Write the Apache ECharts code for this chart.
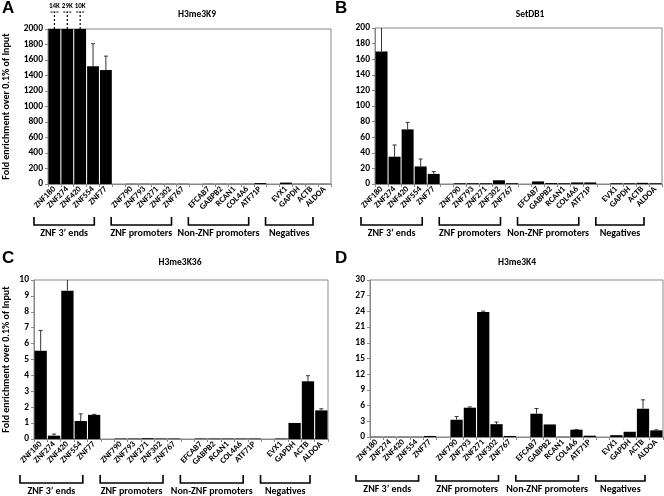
<!DOCTYPE html>
<html><head><meta charset="utf-8">
<script src="https://cdn.jsdelivr.net/npm/echarts@6/dist/echarts.min.js"></script>
<style>html,body{margin:0;padding:0;background:#fff}#c{width:664px;height:496px}</style>
</head><body><div id="c"></div>
<script>
const categories = ['ZNF180','ZNF274','ZNF420','ZNF554','ZNF77',' ',
  'ZNF790','ZNF793','ZNF271','ZNF302','ZNF767','  ',
  'EFCAB7','GABPB2','RCAN1','COL4A6','ATF71P','   ',
  'EVX1','GAPDH','ACTB','ALDOA'];
const groupNames = ['ZNF 3\u2019 ends','ZNF promoters','Non-ZNF promoters','Negatives'];
const groupFirst = ['ZNF180','ZNF790','EFCAB7','EVX1'];
const groupLast = ['ZNF77','ZNF767','ATF71P','ALDOA'];
const panelLetters = ['A','B','C','D'];
const panelTitles = ['H3me3K9','SetDB1','H3me3K36','H3me3K4'];
const yMax = [2000,200,10,30];
const yInterval = [200,20,1,3];
const yAxisTitle = 'Fold enrichment over 0.1% of Input';

// H3me3K9
const k9Values = [14000,29000,10000,1520,1470,null, 3,3,3,3,3,null, 3,3,3,3,12,null, 18,3,3,3];
const k9Errors = [0,0,0,290,180,null, 0,0,0,0,0,null, 0,0,0,0,0,null, 0,0,0,0];
// SetDB1
const setdb1Values = [170,35,70,22.5,13,null, 1,1,1,4.8,1,null, 3.3,1.2,1,2,2,null, 1,1,1.5,1];
const setdb1Errors = [32,15,9,9.5,3,null, 0,0,0,0,0,null, 0,0,0,0,0,null, 0,0,0,0];
// H3me3K36
const k36Values = [5.55,0.21,9.33,1.13,1.52,null, 0.03,0.03,0.05,0.03,0.03,null, 0.03,0.03,0.03,0.03,0.03,null, 0.03,1.01,3.63,1.8];
const k36Errors = [1.28,0.1,0.8,0.45,0.03,null, 0,0,0,0,0,null, 0,0,0,0,0,null, 0,0,0.35,0.1];
// H3me3K4
const k4Values = [0.05,0.05,0.05,0.05,0.2,null, 3.3,5.6,23.9,2.45,0.2,null, 4.45,2.4,0.05,1.4,0.25,null, 0.35,1.0,5.4,1.27];
const k4Errors = [0,0,0,0,0,null, 0.6,0.15,0.15,0.4,0,null, 1.0,0,0,0.05,0,null, 0,0,1.7,0.1];

const allValues = [k9Values, setdb1Values, k36Values, k4Values];
const allErrors = [k9Errors, setdb1Errors, k36Errors, k4Errors];

const FONT = 'Carlito, Lato, sans-serif';
const grids = [
  {left:47, top:29, width:284, height:155},
  {left:375, top:28, width:287, height:156},
  {left:33, top:280, width:295, height:159},
  {left:370, top:280, width:293, height:157}
];
const yNameGap = [37, null, 23, null];
const titlePos = [[197,15],[530,15],[180,263],[517,263]];
const letterPos = [[2,0],[335,0],[2,250],[335,250]];
const bracketOff = [[33,41,49],[33,41,49],[36,44,52],[38,44,52]];

const chart = echarts.init(document.getElementById('c'), null, {renderer:'canvas'});

function errRender(params, api) {
  const i = api.value(0), v = api.value(1), e = api.value(2);
  if (v == null || isNaN(v) || !e) return;
  const p0 = api.coord([i, v]);
  const p1 = api.coord([i, v + e]);
  const w = 4;
  return {type:'group', children:[
    {type:'line', shape:{x1:p0[0],y1:p0[1],x2:p1[0],y2:p1[1]}, style:{stroke:'#333',lineWidth:1}},
    {type:'line', shape:{x1:p1[0]-w/2,y1:p1[1],x2:p1[0]+w/2,y2:p1[1]}, style:{stroke:'#333',lineWidth:1}}
  ]};
}
function overflowRender(maxV) {
  return function(params, api) {
    const i = api.value(0), v = api.value(1);
    if (v == null || isNaN(v) || !(v > maxV)) return;
    const p = api.coord([i, maxV]);
    const yTop = p[1] - 17;
    return {type:'group', children:[
      {type:'line', shape:{x1:p[0],y1:p[1],x2:p[0],y2:yTop}, style:{stroke:'#000',lineWidth:1.2,lineDash:[2,2]}},
      {type:'line', shape:{x1:p[0]-4,y1:yTop,x2:p[0]+4,y2:yTop}, style:{stroke:'#000',lineWidth:1.2,lineDash:[2,1]}},
      {type:'text', style:{x:p[0], y:yTop-2, text: Math.round(v/1000)+'K', fill:'#000',
        font:'bold 7px '+FONT, align:'center', verticalAlign:'bottom'}}
    ]};
  };
}

const option = {
  animation:false,
  backgroundColor:'#fff',
  grid: grids.map(g => Object.assign({show:true, borderColor:'#888', borderWidth:1, containLabel:false}, g)),
  xAxis: grids.map((g,k) => ({
    type:'category', gridIndex:k, data:categories, boundaryGap:true,
    axisLine:{lineStyle:{color:'#888',width:1}},
    axisTick:{show:true, length:3, interval:0, lineStyle:{color:'#888'}},
    axisLabel:{interval:0, rotate:45, fontSize:8.5, fontWeight:'bold', fontFamily:FONT, color:'#000', margin:4}
  })),
  yAxis: grids.map((g,k) => ({
    type:'value', gridIndex:k, min:0, max:yMax[k], interval:yInterval[k],
    name: yNameGap[k] ? yAxisTitle : '', nameLocation:'middle', nameGap: yNameGap[k] || 0,
    nameTextStyle:{fontSize:10, fontWeight:'bold', fontFamily:FONT, color:'#000'},
    splitLine:{show:false},
    axisLine:{show:true, lineStyle:{color:'#888',width:1}},
    axisTick:{show:true, length:3, lineStyle:{color:'#888'}},
    axisLabel:{fontSize:9.5, fontWeight:'bold', fontFamily:FONT, color:'#000', margin:5,
      formatter: v => String(v)}
  })),
  series: [],
  graphic: []
};
for (let k = 0; k < 4; k++) {
  option.series.push({
    type:'bar', xAxisIndex:k, yAxisIndex:k, data: allValues[k], clip:true,
    barCategoryGap:'8%', itemStyle:{color:'#000'}, z:2
  });
  option.series.push({
    type:'custom', xAxisIndex:k, yAxisIndex:k, clip:true, z:3,
    renderItem: errRender,
    data: allValues[k].map((v,i) => [i, v, allErrors[k][i]])
  });
  option.graphic.push({type:'text', left:letterPos[k][0], top:letterPos[k][1],
    style:{text:panelLetters[k], font:'bold 17px "Liberation Sans", Arial, sans-serif', fill:'#000'}});
  option.graphic.push({type:'text', x:titlePos[k][0], y:titlePos[k][1],
    style:{text:panelTitles[k], font:'bold 9.5px '+FONT, fill:'#000', align:'center', verticalAlign:'middle'}});
}
option.series.push({
  type:'custom', xAxisIndex:0, yAxisIndex:0, clip:false, z:4,
  renderItem: overflowRender(yMax[0]),
  data: k9Values.map((v,i) => [i, v == null ? NaN : v])
});
chart.setOption(option);

// group brackets
const extra = [];
for (let k = 0; k < 4; k++) {
  const g = grids[k];
  const bottom = g.top + g.height;
  for (let j = 0; j < groupNames.length; j++) {
    const ia = categories.indexOf(groupFirst[j]);
    const ib = categories.indexOf(groupLast[j]);
    const a = chart.convertToPixel({xAxisIndex:k}, ia);
    const a2 = chart.convertToPixel({xAxisIndex:k}, ia + 1);
    const b = chart.convertToPixel({xAxisIndex:k}, ib);
    const slot = a2 - a;
    const x1 = a - slot/2 - 14, x2 = b + slot/2 - 18;
    const y1 = bottom + bracketOff[k][0], y2 = bottom + bracketOff[k][1];
    extra.push({type:'polyline', shape:{points:[[x1,y1],[x1,y2],[x2,y2],[x2,y1]]},
      style:{stroke:'#000', lineWidth:1.6, fill:null}});
    extra.push({type:'text', x:(x1+x2)/2, y:bottom + bracketOff[k][2],
      style:{text:groupNames[j], font:'bold 10px '+FONT, fill:'#000', align:'center', verticalAlign:'middle'}});
  }
}
chart.setOption({graphic: option.graphic.concat(extra)});
</script></body></html>
